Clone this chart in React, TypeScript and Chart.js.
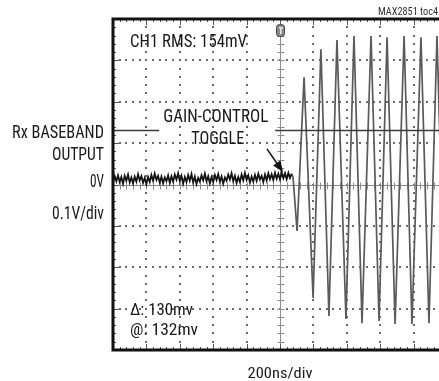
import React, { useEffect, useRef } from "react";
import { Chart, registerables } from "chart.js";

Chart.register(...registerables);

// ---- Data (time in ns, amplitude in V) ----
const noiseTimes = [
  -1000, -990, -980, -970, -960, -950, -940, -930, -920, -910, -900, -890,
  -880, -870, -860, -850, -840, -830, -820, -810, -800, -790, -780, -770,
  -760, -750, -740, -730, -720, -710, -700, -690, -680, -670, -660, -650,
  -640, -630, -620, -610, -600, -590, -580, -570, -560, -550, -540, -530,
  -520, -510, -500, -490, -480, -470, -460, -450, -440, -430, -420, -410,
  -400, -390, -380, -370, -360, -350, -340, -330, -320, -310, -300, -290,
  -280, -270, -260, -250, -240, -230, -220, -210, -200, -190, -180, -170,
  -160, -150, -140, -130, -120, -110, -100, -90, -80, -70, -60, -50,
  -40, -30, -20, -10, 0, 10, 20, 30, 40, 50, 60, 70,
];
const noiseVolts = [
  0.004, 0.020, 0.008, 0.022, 0.006, 0.018, 0.002, 0.021, 0.009, 0.024, 0.005, 0.017,
  0.003, 0.019, 0.007, 0.025, 0.010, 0.020, 0.004, 0.016, 0.001, 0.018, 0.006, 0.023,
  0.009, 0.026, 0.011, 0.021, 0.005, 0.019, 0.003, 0.017, 0.008, 0.022, 0.004, 0.020,
  0.007, 0.024, 0.012, 0.027, 0.008, 0.021, 0.002, 0.018, 0.006, 0.023, 0.009, 0.025,
  0.005, 0.019, 0.001, 0.016, 0.007, 0.022, 0.010, 0.026, 0.008, 0.020, 0.003, 0.018,
  0.006, 0.023, 0.011, 0.025, 0.007, 0.019, 0.002, 0.017, 0.009, 0.024, 0.012, 0.027,
  0.008, 0.021, 0.004, 0.018, 0.006, 0.024, 0.010, 0.028, 0.011, 0.022, 0.005, 0.019,
  0.007, 0.023, 0.009, 0.026, 0.012, 0.021, 0.006, 0.024, 0.010, 0.027, 0.013, 0.025,
  0.011, 0.028, 0.014, 0.026, 0.012, 0.029, 0.015, 0.027, 0.013, 0.028, 0.016, 0.026,
];
const burstTimes = [
  70, 78, 102, 144, 198, 245, 293, 341, 395, 443,
  491, 545, 593, 641, 689, 743, 790, 844, 892, 940, 988,
];
const burstVolts = [
  0.026, 0.018, -0.112, 0.259, -0.274, 0.327, -0.318, 0.349, -0.325, 0.359,
  -0.335, 0.359, -0.330, 0.356, -0.337, 0.359, -0.337, 0.356, -0.335, 0.359, -0.335,
];
const timeDivisions = [-1000, -800, -600, -400, -200, 0, 200, 400, 600, 800];
const voltDivisions = [-0.4, -0.3, -0.2, -0.1, 0, 0.1, 0.2, 0.3, 0.4];
const cursorLevel = 0.132;
const leftLabels = ["Rx BASEBAND", "OUTPUT", "0V", "0.1V/div"];
const annotationLines = ["GAIN-CONTROL", "TOGGLE"];
const readouts = ["CH1 RMS: 154mV", "\u0394: 130mv", "@: 132mv"];
const xAxisLabel = "200ns/div";
const figureTag = "MAX2851 toc4";

const FONT = '"Liberation Sans Narrow", "Roboto Condensed", Roboto, "Liberation Sans", sans-serif';

function fitText(
  ctx: CanvasRenderingContext2D,
  s: string,
  x: number,
  y: number,
  size: number,
  align: CanvasTextAlign,
  width: number,
  color = "#1a1a1a"
) {
  ctx.save();
  ctx.font = `${size}px ${FONT}`;
  const w = ctx.measureText(s).width || 1;
  const sx = width / w;
  ctx.translate(x, y);
  ctx.scale(sx, 1);
  ctx.fillStyle = color;
  ctx.textAlign = align;
  ctx.textBaseline = "alphabetic";
  ctx.fillText(s, 0, 0);
  ctx.restore();
}

const scopePlugin = {
  id: "scopeGrid",
  beforeDatasetsDraw(chart: any) {
    const { ctx, chartArea: a, scales } = chart;
    const x = scales.x;
    const y = scales.y;
    const xStep = (x.getPixelForValue(200) - x.getPixelForValue(0)) / 5;
    const yStep = (y.getPixelForValue(0) - y.getPixelForValue(0.1)) / 5;
    ctx.save();
    ctx.fillStyle = "#6a6a6a";
    for (const t of timeDivisions) {
      if (t === 0 || t <= x.min) continue;
      const px = Math.round(x.getPixelForValue(t));
      for (let py = a.top + yStep; py < a.bottom - 2; py += yStep) {
        ctx.fillRect(px - 1, Math.round(py) - 1, 2, 2);
      }
    }
    for (const v of voltDivisions) {
      if (v === 0 || v <= y.min || v >= y.max) continue;
      const py = Math.round(y.getPixelForValue(v));
      for (let px = a.left + xStep; px < a.right; px += xStep) {
        ctx.fillRect(Math.round(px) - 1, py - 1, 2, 2);
      }
    }
    ctx.strokeStyle = "#8c8c8c";
    ctx.lineWidth = 1;
    const cx = Math.round(x.getPixelForValue(0)) + 0.5;
    const cy = Math.round(y.getPixelForValue(0)) + 0.5;
    ctx.beginPath();
    ctx.moveTo(cx, a.top);
    ctx.lineTo(cx, a.bottom);
    ctx.moveTo(a.left, cy);
    ctx.lineTo(a.right, cy);
    for (let py = a.top + yStep; py < a.bottom; py += yStep) {
      ctx.moveTo(cx - 3, Math.round(py) + 0.5);
      ctx.lineTo(cx + 4, Math.round(py) + 0.5);
    }
    for (let px = a.left + xStep; px < a.right; px += xStep) {
      ctx.moveTo(Math.round(px) + 0.5, cy - 3);
      ctx.lineTo(Math.round(px) + 0.5, cy + 4);
    }
    ctx.stroke();
    ctx.strokeStyle = "#555";
    ctx.beginPath();
    let i = 0;
    for (let px = a.left + xStep; px < a.right; px += xStep) {
      i++;
      const len = i % 5 === 0 ? 6 : 3;
      const p = Math.round(px) + 0.5;
      ctx.moveTo(p, a.top);
      ctx.lineTo(p, a.top + len);
      ctx.moveTo(p, a.bottom);
      ctx.lineTo(p, a.bottom - len);
    }
    i = 0;
    for (let py = a.top + yStep; py < a.bottom - 1; py += yStep) {
      i++;
      const len = i % 5 === 0 ? 6 : 3;
      const p = Math.round(py) + 0.5;
      ctx.moveTo(a.left, p);
      ctx.lineTo(a.left + len, p);
    }
    ctx.stroke();
    ctx.restore();
  },
  afterDatasetsDraw(chart: any) {
    const { ctx, chartArea: a, scales } = chart;
    const x = scales.x;
    const y = scales.y;
    ctx.save();
    const textCenterX = x.getPixelForValue(-385);
    const gapHalf = 105 / 2 + 4;
    const cyc = Math.round(y.getPixelForValue(cursorLevel)) + 0.5;
    ctx.strokeStyle = "#3c3c3c";
    ctx.lineWidth = 1.6;
    ctx.beginPath();
    ctx.moveTo(a.left, cyc);
    ctx.lineTo(textCenterX - gapHalf, cyc);
    ctx.moveTo(textCenterX + gapHalf + 3, cyc);
    ctx.lineTo(a.right, cyc);
    ctx.stroke();

    fitText(ctx, annotationLines[0], textCenterX, 122, 19, "center", 105);
    fitText(ctx, annotationLines[1], textCenterX + 2, 144, 19, "center", 53);

    const x0 = x.getPixelForValue(-78);
    const y0 = y.getPixelForValue(0.086);
    const x1 = x.getPixelForValue(18);
    const y1 = y.getPixelForValue(0.03);
    const ang = Math.atan2(y1 - y0, x1 - x0);
    ctx.strokeStyle = "#111";
    ctx.fillStyle = "#111";
    ctx.lineWidth = 1.5;
    ctx.beginPath();
    ctx.moveTo(x0, y0);
    ctx.lineTo(x1 - 8 * Math.cos(ang), y1 - 8 * Math.sin(ang));
    ctx.stroke();
    ctx.beginPath();
    ctx.moveTo(x1, y1);
    ctx.lineTo(x1 - 11 * Math.cos(ang) + 4.5 * Math.sin(ang), y1 - 11 * Math.sin(ang) - 4.5 * Math.cos(ang));
    ctx.lineTo(x1 - 11 * Math.cos(ang) - 4.5 * Math.sin(ang), y1 - 11 * Math.sin(ang) + 4.5 * Math.cos(ang));
    ctx.closePath();
    ctx.fill();

    fitText(ctx, readouts[0], 130, 47, 19, "left", 117);
    fitText(ctx, readouts[1], 130, 315, 17, "left", 63);
    fitText(ctx, readouts[2], 130, 335, 17, "left", 68);

    const tx = Math.round(x.getPixelForValue(0));
    ctx.fillStyle = "#8a8a8a";
    ctx.strokeStyle = "#444";
    ctx.lineWidth = 1;
    ctx.beginPath();
    (ctx as any).roundRect(tx - 3.5, a.top + 5.5, 8, 12, 3);
    ctx.fill();
    ctx.stroke();
    ctx.fillStyle = "#e8e8e8";
    ctx.fillRect(tx - 1, a.top + 8, 4, 1.5);
    ctx.fillRect(tx, a.top + 8, 1.6, 7);

    ctx.strokeStyle = "#111";
    ctx.lineWidth = 3;
    ctx.beginPath();
    ctx.moveTo(a.right + 2, a.top);
    ctx.lineTo(a.left, a.top);
    ctx.lineTo(a.left, a.bottom);
    ctx.lineTo(a.right + 2, a.bottom);
    ctx.stroke();

    fitText(ctx, leftLabels[0], 104, 138, 17.5, "right", 92);
    fitText(ctx, leftLabels[1], 104, 160, 17.5, "right", 52);
    fitText(ctx, leftLabels[2], 104, 187, 17.5, "right", 14);
    fitText(ctx, leftLabels[3], 104, 219, 17.5, "right", 52);
    fitText(ctx, xAxisLabel, 280, 378, 15.5, "center", 65);
    fitText(ctx, figureTag, 438, 15, 10.5, "right", 60, "#333");
    ctx.restore();
  },
};

export default function App() {
  const ref = useRef<HTMLCanvasElement | null>(null);
  useEffect(() => {
    if (!ref.current) return;
    const chart = new Chart(ref.current, {
      type: "line",
      data: {
        datasets: [
          {
            label: "noise",
            data: noiseTimes.map((t, i) => ({ x: t, y: noiseVolts[i] })),
            borderColor: "#141414",
            borderWidth: 1.8,
            pointRadius: 0,
            tension: 0,
          },
          {
            label: "burst",
            data: burstTimes.map((t, i) => ({ x: t, y: burstVolts[i] })),
            borderColor: "#5a5a5a",
            borderWidth: 1.7,
            pointRadius: 0,
            tension: 0,
          },
        ],
      },
      options: {
        animation: false,
        responsive: false,
        devicePixelRatio: 1,
        layout: { padding: { left: 113, top: 19, right: 0, bottom: 31 } },
        plugins: { legend: { display: false }, tooltip: { enabled: false }, title: { display: false } },
        scales: {
          x: { type: "linear", min: -1000, max: 952, display: false },
          y: { type: "linear", min: -0.4, max: 0.4, display: false },
        },
      },
      plugins: [scopePlugin],
    });
    return () => chart.destroy();
  }, []);
  return (
    <div style={{ position: "absolute", left: 0, top: 0, width: 439, height: 381, background: "#fff" }}>
      <canvas ref={ref} width={439} height={381} style={{ display: "block", width: 439, height: 381 }} />
    </div>
  );
}
